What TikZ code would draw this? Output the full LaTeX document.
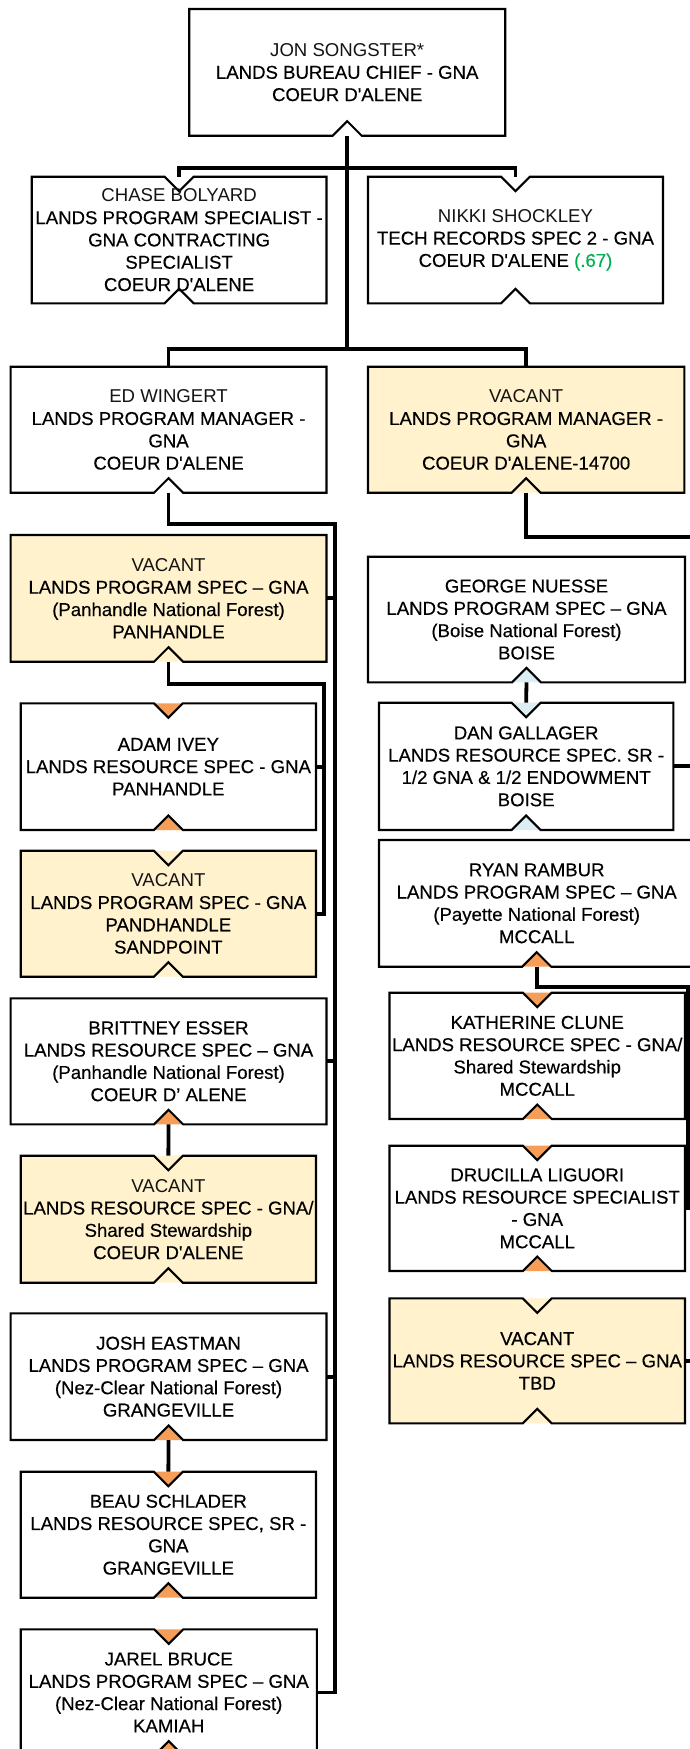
\documentclass[tikz,border=0pt]{standalone}
\usepackage{fontspec}
\newfontfamily\orgfont{Liberation Sans}[FakeBold=0.35]
\newfontfamily\namefont{Liberation Sans}
\usetikzlibrary{calc}

\definecolor{cream}{RGB}{255,242,204}
\definecolor{notchorange}{RGB}{246,158,88}
\definecolor{notchblue}{RGB}{218,238,243}
\definecolor{ftegreen}{RGB}{0,176,80}
\definecolor{namegray}{RGB}{20,20,20}

\tikzset{
  boxline/.style={draw=black, line width=2.1pt, line join=miter},
  conn/.style={draw=black, line width=3.8pt},
  orgtext/.style={inner sep=0pt, outer sep=0pt, align=center, text=black,
    font=\orgfont\fontsize{18.6}{22.3}\selectfont},
}

% notch half-width and depth
\newcommand{\nw}{14.5}
\newcommand{\nh}{14.5}
\def\nonecol{none}
\newcommand{\thinname}[1]{{\namefont\color{namegray}#1}}

% \orgbox{name}{left}{top}{right}{bottom}{fill}{top notch fill|none}{bottom notch fill}{text}
\newcommand{\orgbox}[9]{%
  \pgfmathsetmacro\cx{(#2+#4)/2}%
  \pgfmathsetmacro\cy{(#3+#5)/2}%
  \pgfmathsetmacro\bw{#4-#2}%
  \pgfmathsetmacro\bh{#5-#3}%
  \pgfmathsetmacro\xl{\cx-\nw}%
  \pgfmathsetmacro\xr{\cx+\nw}%
  \pgfmathsetmacro\yt{#3+\nh}%
  \pgfmathsetmacro\yb{#5-\nh}%
  \def\topcol{#7}%
  \fill[#8] (\xl,#5) -- (\cx,\yb) -- (\xr,#5) -- cycle;
  \ifx\topcol\nonecol
    \filldraw[boxline, fill=#6] (#2,#3) -- (#4,#3) -- (#4,#5) -- (\xr,#5)
      -- (\cx,\yb) -- (\xl,#5) -- (#2,#5) -- cycle;
  \else
    \fill[#7] (\xl,#3) -- (\cx,\yt) -- (\xr,#3) -- cycle;
    \filldraw[boxline, fill=#6] (#2,#3) -- (\xl,#3) -- (\cx,\yt) -- (\xr,#3)
      -- (#4,#3) -- (#4,#5) -- (\xr,#5) -- (\cx,\yb) -- (\xl,#5) -- (#2,#5) -- cycle;
  \fi
  \node[orgtext, minimum width=\bw pt, minimum height=\bh pt] (#1) at (\cx,\cy) {#9};
}

\begin{document}
\begin{tikzpicture}[x=1pt, y=-1pt]
  \useasboundingbox (0,0) rectangle (690,1749);
  \fill[white] (0,0) rectangle (690,1749);
  \clip (0,0) rectangle (690,1749);

  % ---- top levels ----
  \orgbox{jon}{189.2}{9}{505.2}{135.7}{white}{none}{white}%
    {\thinname{JON SONGSTER*}\\LANDS BUREAU CHIEF - GNA\\COEUR D'ALENE}
  \orgbox{chase}{31.7}{176.7}{326.5}{303.3}{white}{white}{white}%
    {\thinname{CHASE BOLYARD}\\LANDS PROGRAM SPECIALIST -\\GNA CONTRACTING\\SPECIALIST\\COEUR D'ALENE}
  \orgbox{nikki}{368}{176.7}{663}{303.3}{white}{white}{white}%
    {\thinname{NIKKI SHOCKLEY}\\TECH RECORDS SPEC 2 - GNA\\COEUR D'ALENE {\color{ftegreen}(.67)}}
  \orgbox{ed}{10.6}{366.7}{326.5}{492.7}{white}{none}{white}%
    {\thinname{ED WINGERT}\\LANDS PROGRAM MANAGER -\\GNA\\COEUR D'ALENE}
  \orgbox{vmgr}{368}{366.7}{684.3}{492.7}{cream}{none}{cream}%
    {\thinname{VACANT}\\LANDS PROGRAM MANAGER -\\GNA\\COEUR D'ALENE-14700}

  % ---- left column ----
  \orgbox{vpan}{10.6}{535}{326.5}{661.7}{cream}{none}{cream}%
    {\thinname{VACANT}\\LANDS PROGRAM SPEC – GNA\\(Panhandle National Forest)\\PANHANDLE}
  \orgbox{adam}{20.7}{703.3}{316}{830}{white}{notchorange}{notchorange}%
    {ADAM IVEY\\LANDS RESOURCE SPEC - GNA\\PANHANDLE}
  \orgbox{vsand}{20.7}{850.7}{316}{976.7}{cream}{cream}{cream}%
    {\thinname{VACANT}\\LANDS PROGRAM SPEC - GNA\\PANDHANDLE\\SANDPOINT}
  \orgbox{britt}{10.6}{998.3}{326.5}{1124.3}{white}{none}{notchorange}%
    {BRITTNEY ESSER\\LANDS RESOURCE SPEC – GNA\\(Panhandle National Forest)\\COEUR D’ ALENE}
  \orgbox{vcda}{20.7}{1155.7}{316}{1282.7}{cream}{cream}{cream}%
    {\thinname{VACANT}\\LANDS RESOURCE SPEC - GNA/\\Shared Stewardship\\COEUR D'ALENE}
  \orgbox{josh}{10.6}{1313.3}{326.5}{1440}{white}{none}{notchorange}%
    {JOSH EASTMAN\\LANDS PROGRAM SPEC – GNA\\(Nez-Clear National Forest)\\GRANGEVILLE}
  \orgbox{beau}{20.7}{1471.7}{316}{1597.7}{white}{notchorange}{notchorange}%
    {BEAU SCHLADER\\LANDS RESOURCE SPEC, SR -\\GNA\\GRANGEVILLE}
  \orgbox{jarel}{20.7}{1629.3}{316.8}{1755.5}{white}{notchorange}{notchorange}%
    {JAREL BRUCE\\LANDS PROGRAM SPEC – GNA\\(Nez-Clear National Forest)\\KAMIAH}

  % ---- right column ----
  \orgbox{george}{368}{556.7}{685}{682.3}{white}{none}{notchblue}%
    {GEORGE NUESSE\\LANDS PROGRAM SPEC – GNA\\(Boise National Forest)\\BOISE}
  \orgbox{dan}{379}{702.7}{673.3}{830}{white}{notchblue}{notchblue}%
    {DAN GALLAGER\\LANDS RESOURCE SPEC. SR -\\1/2 GNA \& 1/2 ENDOWMENT\\BOISE}
  \orgbox{ryan}{379}{840}{694.4}{966.7}{white}{none}{notchorange}%
    {RYAN RAMBUR\\LANDS PROGRAM SPEC – GNA\\(Payette National Forest)\\MCCALL}
  \orgbox{kath}{389.5}{992.7}{685}{1119}{white}{notchorange}{notchorange}%
    {KATHERINE CLUNE\\LANDS RESOURCE SPEC - GNA/\\Shared Stewardship\\MCCALL}
  \orgbox{dru}{389.5}{1145.7}{685}{1271}{white}{notchorange}{notchorange}%
    {DRUCILLA LIGUORI\\LANDS RESOURCE SPECIALIST\\- GNA\\MCCALL}
  \orgbox{vtbd}{389.5}{1298.3}{685}{1423.3}{cream}{cream}{cream}%
    {VACANT\\LANDS RESOURCE SPEC – GNA\\TBD}

  % ---- connectors ----
  \coordinate (busA) at (347.2,167.7);
  \coordinate (busB) at (347.2,349);
  \coordinate (trunkL) at (335.3,524);
  \coordinate (trunkP) at (324,684.3);
  \coordinate (trunkR) at (688,986.7);
  \coordinate (offA) at (695,537.3);
  \coordinate (edge) at (695,0);

  \draw[conn] (jon.south) -- (busB);
  \draw[conn] (chase.north) |- (busA) -| (nikki.north);
  \draw[conn] (ed.north) |- (busB) -| (vmgr.north);

  \draw[conn] (ed.south) |- (trunkL) |- (jarel.east);
  \draw[conn] (vpan.east) -- (vpan.east -| trunkL);
  \draw[conn] (britt.east) -- (britt.east -| trunkL);
  \draw[conn] (josh.east) -- (josh.east -| trunkL);

  \draw[conn] (vpan.south) |- (trunkP) |- (vsand.east);
  \draw[conn] (adam.east) -- (adam.east -| trunkP);

  \draw[conn] (britt.south) -- (vcda.north);
  \draw[conn] (josh.south) -- (beau.north);

  \draw[conn] (vmgr.south) |- (offA);
  \draw[conn] (george.south) -- (dan.north);
  \draw[conn] (dan.east) -- (dan.east -| edge);
  \draw[conn] (ryan.south) |- (trunkR) |- (dru.east);
  \draw[conn] (vtbd.east) -- (vtbd.east -| edge);
\end{tikzpicture}
\end{document}
